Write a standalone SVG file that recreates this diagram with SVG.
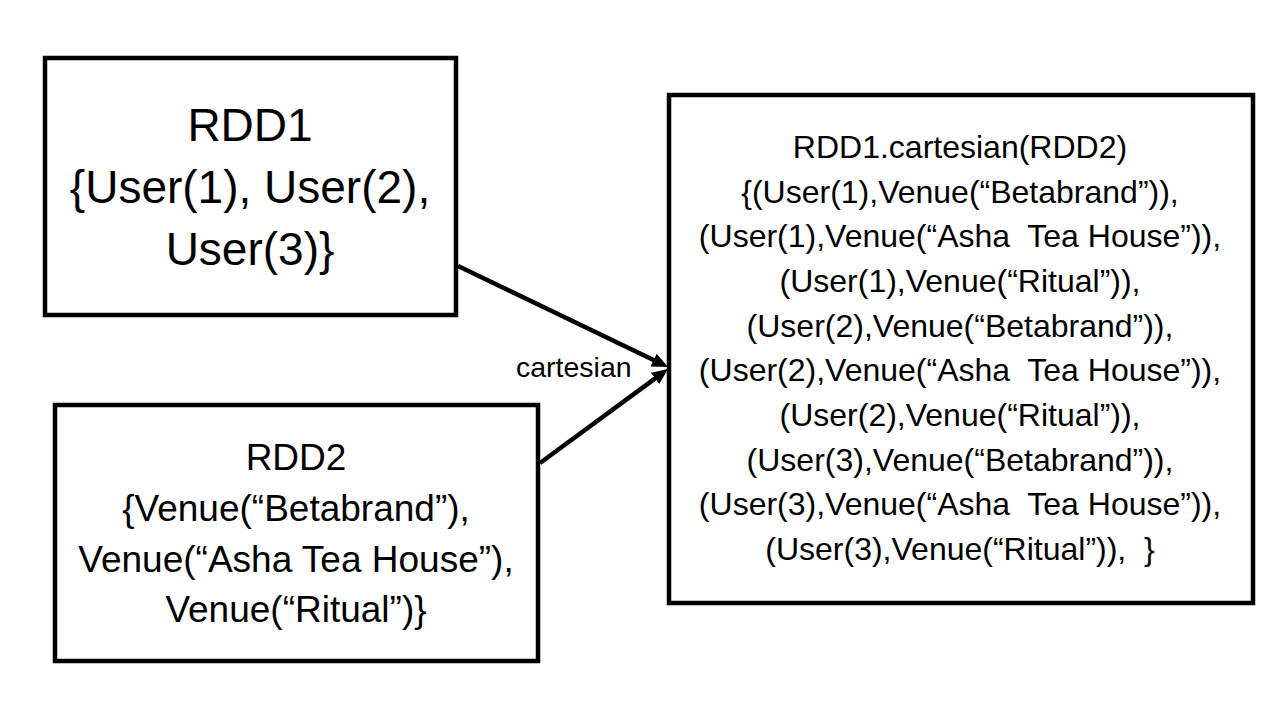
<svg xmlns="http://www.w3.org/2000/svg" width="1280" height="720" viewBox="0 0 1280 720">
<style>
.box{fill:#fff;stroke:#000;stroke-width:4.5}
.t{font-family:"Liberation Sans",Arial,sans-serif;fill:#000;text-anchor:middle}
.t1{font-size:46px}
.t2{font-size:37px}
.t3{font-size:32px;white-space:pre}
.lbl{font-family:"Liberation Sans",Arial,sans-serif;font-size:28.5px;fill:#000}
.conn{stroke:#000;stroke-width:4.5;fill:none;marker-end:url(#ah)}
</style>
<defs>
<marker id="ah" markerUnits="userSpaceOnUse" viewBox="0 0 16 14" markerWidth="16" markerHeight="14" refX="4" refY="7" orient="auto">
<path d="M0,0 L16,7 L0,14 z" fill="#000"/>
</marker>
</defs>
<rect width="1280" height="720" fill="#fff"/>
<g id="rdd1">
<rect class="box" x="45" y="58" width="411" height="257"/>
<text class="t t1" x="250" y="141">RDD1</text>
<text class="t t1" x="250" y="203">{User(1), User(2),</text>
<text class="t t1" x="250" y="265">User(3)}</text>
</g>
<g id="rdd2">
<rect class="box" x="55" y="405" width="483" height="256"/>
<text class="t t2" x="296" y="470">RDD2</text>
<text class="t t2" x="296" y="521">{Venue(“Betabrand”),</text>
<text class="t t2" x="296" y="572">Venue(“Asha Tea House”),</text>
<text class="t t2" x="296" y="622">Venue(“Ritual”)}</text>
</g>
<g id="result">
<rect class="box" x="669" y="95" width="584" height="508"/>
<g xml:space="preserve">
<text class="t t3" x="960" y="158">RDD1.cartesian(RDD2)</text>
<text class="t t3" x="960" y="202.7">{(User(1),Venue(“Betabrand”)),</text>
<text class="t t3" x="960" y="247.3">(User(1),Venue(“Asha  Tea House”)),</text>
<text class="t t3" x="960" y="292">(User(1),Venue(“Ritual”)),</text>
<text class="t t3" x="960" y="336.7">(User(2),Venue(“Betabrand”)),</text>
<text class="t t3" x="960" y="381.3">(User(2),Venue(“Asha  Tea House”)),</text>
<text class="t t3" x="960" y="426">(User(2),Venue(“Ritual”)),</text>
<text class="t t3" x="960" y="470.7">(User(3),Venue(“Betabrand”)),</text>
<text class="t t3" x="960" y="515.3">(User(3),Venue(“Asha  Tea House”)),</text>
<text class="t t3" x="960" y="560">(User(3),Venue(“Ritual”)),  }</text>
</g>
</g>
<g id="connectors">
<line class="conn" x1="458" y1="266" x2="657.2" y2="361.8"/>
<line class="conn" x1="540" y1="463" x2="658.3" y2="376.1"/>
<text class="lbl" x="516" y="377">cartesian</text>
</g>
</svg>
